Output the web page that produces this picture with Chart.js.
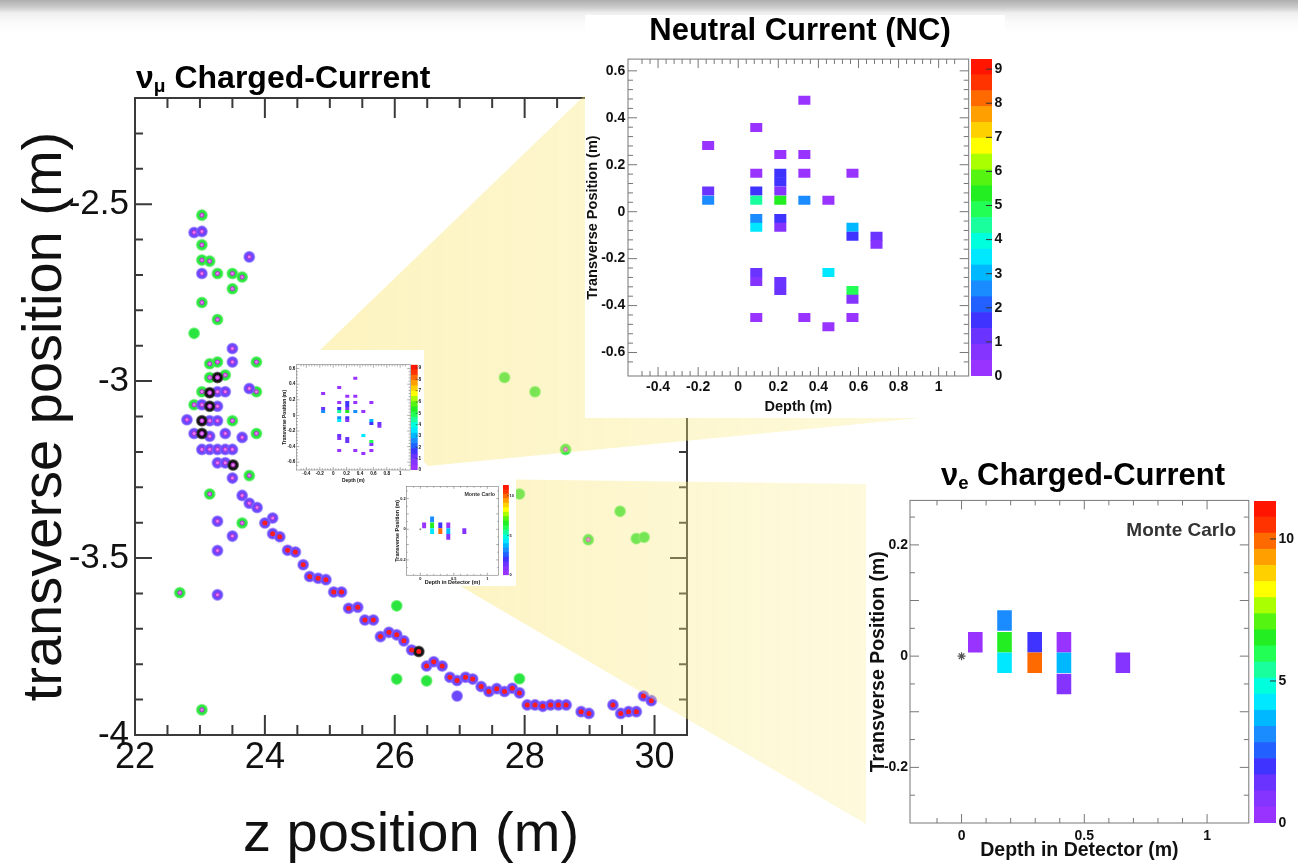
<!DOCTYPE html>
<html>
<head>
<meta charset="utf-8">
<script src="https://cdn.jsdelivr.net/npm/chart.js@4.4.1/dist/chart.umd.min.js"></script>
<style>
  body { margin: 0; background: #fff; }
  #stage { position: relative; width: 1298px; height: 865px; overflow: hidden; background: #fff; }
  .topband { position: absolute; left: 0; top: 0; width: 1298px; height: 34px; z-index: 0;
    background: linear-gradient(#aeaeae 0px, #cfcfcf 8px, #efefef 13px, #fafafa 22px, #fff 34px); }
  .box { position: absolute; background: #fff; z-index: 3; }
  .ttl { position: absolute; z-index: 5; font-family: 'Liberation Sans', Arial, sans-serif; font-weight: bold;
    color: #000; line-height: 1; white-space: nowrap; }
  .ttl sub { font-size: 0.6em; vertical-align: -0.2em; }
</style>
</head>
<body>
<div id="stage">
  <div class="topband"></div>
  <canvas id="main" width="700" height="865" style="position:absolute;left:0;top:0;z-index:1"></canvas>
  <canvas id="wedges" width="1298" height="865" style="position:absolute;left:0;top:0;z-index:2"></canvas>
  <div class="box" style="left:283px;top:350px;width:141px;height:132px"></div>
  <div class="box" style="left:398px;top:478px;width:118px;height:108px"></div>
  <div class="box" style="left:585px;top:15px;width:420px;height:403px"></div>
  <div class="box" style="left:866px;top:452px;width:432px;height:413px"></div>
  <div class="ttl" style="left:136px;top:61px;font-size:32px">ν<sub>μ</sub> Charged-Current</div>
  <div class="ttl" style="left:600px;top:14px;width:400px;text-align:center;font-size:31px">Neutral Current (NC)</div>
  <div class="ttl" style="left:883px;top:459px;width:400px;text-align:center;font-size:31px">ν<sub>e</sub> Charged-Current</div>
</div>
<script>
const FONT = "'Liberation Sans', Arial, sans-serif";

// main event display: z position (m), transverse position (m)
const greenHit = [[23.03,-2.531],[23.03,-2.615],[23.03,-2.658],[23.15,-2.661],[23.27,-2.696],[23.50,-2.696],
  [23.65,-2.706],[23.50,-2.739],[23.03,-2.778],[23.27,-2.826],[23.15,-2.951],[23.27,-2.946],[23.87,-2.946],
  [23.15,-2.990],[23.39,-2.983],[23.03,-3.030],[23.87,-3.030],[22.91,-3.067],[23.50,-3.112],[23.87,-3.148],
  [23.76,-3.267],[23.15,-3.319],[23.65,-3.401],[22.69,-3.598],[23.03,-3.929],[28.63,-3.193],[28.98,-3.448]];
const greenBare = [[22.91,-2.865],[26.03,-3.635],[26.03,-3.842],[26.49,-3.847],[27.92,-3.841],[27.69,-2.990],
  [28.16,-3.030],[27.92,-3.319],[29.47,-3.368],[29.72,-3.445],[29.84,-3.441]];
const blueHit = [[22.91,-2.580],[23.03,-2.577],[23.76,-2.649],[23.03,-2.696],[23.50,-2.908],[23.50,-2.946],
  [23.27,-3.030],[23.39,-3.030],[23.76,-3.021],[23.03,-3.067],[23.27,-3.071],[22.80,-3.109],[23.15,-3.112],
  [23.27,-3.112],[22.91,-3.148],[23.15,-3.156],[23.39,-3.148],[23.65,-3.159],[23.03,-3.193],[23.15,-3.193],
  [23.27,-3.193],[23.39,-3.193],[23.50,-3.193],[23.27,-3.231],[23.39,-3.231],[23.50,-3.274],[23.65,-3.323],
  [23.76,-3.345],[23.88,-3.357],[23.27,-3.396],[24.12,-3.387],[23.50,-3.438],[23.27,-3.479],[23.27,-3.604]];
const blueTrack = [[24.00,-3.401],[24.12,-3.431],[24.23,-3.440],[24.35,-3.478],[24.47,-3.483],[24.59,-3.519],
  [24.69,-3.552],[24.82,-3.557],[24.94,-3.561],[25.06,-3.596],[25.18,-3.596],[25.29,-3.642],[25.43,-3.639],
  [25.54,-3.675],[25.67,-3.675],[25.78,-3.722],[25.91,-3.710],[26.03,-3.717],[26.14,-3.734],[26.26,-3.760],
  [26.49,-3.805],[26.60,-3.793],[26.73,-3.805],[26.85,-3.837],[26.96,-3.846],[27.09,-3.837],[27.20,-3.842],
  [27.33,-3.863],[27.45,-3.877],[27.57,-3.869],[27.69,-3.877],[27.81,-3.868],[27.92,-3.881],[28.04,-3.915],
  [28.16,-3.915],[28.28,-3.919],[28.40,-3.915],[28.52,-3.915],[28.64,-3.915],[28.87,-3.934],[28.99,-3.939],
  [29.36,-3.915],[29.48,-3.939],[29.60,-3.934],[29.72,-3.934],[29.83,-3.890],[29.95,-3.903]];
const blueBare = [[26.96,-3.890]];
const blackHit = [[23.27,-2.990],[23.15,-3.033],[23.15,-3.071],[23.03,-3.112],[23.03,-3.148],[23.51,-3.237]];
const blackTrack = [[26.37,-3.764]];
const zTicks = [22, 24, 26, 28, 30];

// heat maps: [depth (m), transverse (m), charge]
const ncCells = [
  [-0.15,0.282,0.3],[-0.15,0.088,1.1],[-0.15,0.049,2.4],
  [0.09,0.359,0.3],[0.09,0.164,0.3],[0.09,0.088,1.4],[0.09,0.049,4.6],[0.09,-0.029,2.4],[0.09,-0.066,3.3],
  [0.09,-0.259,1.1],[0.09,-0.297,0.7],[0.09,-0.451,0.3],
  [0.21,0.244,0.3],[0.21,0.164,1.4],[0.21,0.127,1.4],[0.21,0.088,0.9],[0.21,0.049,5.3],[0.21,-0.029,1.5],
  [0.21,-0.066,0.7],[0.21,-0.297,1.0],[0.21,-0.336,1.1],
  [0.33,0.475,0.3],[0.33,0.244,0.3],[0.33,0.164,0.3],[0.33,0.049,2.4],[0.33,-0.451,0.3],
  [0.45,0.049,0.3],[0.45,-0.259,3.3],[0.45,-0.490,0.3],
  [0.57,0.164,0.3],[0.57,-0.066,2.9],[0.57,-0.105,1.5],[0.57,-0.336,5.0],[0.57,-0.373,0.7],[0.57,-0.451,0.3],
  [0.69,-0.105,1.1],[0.69,-0.139,0.7]];
const nueCells = [[0.056,0.025,0.3],[0.175,0.064,3.0],[0.175,0.025,6.5],[0.175,-0.012,4.3],[0.298,0.025,1.9],
  [0.298,-0.012,9.9],[0.417,0.025,0.4],[0.417,-0.012,3.6],[0.417,-0.050,0.9],[0.657,-0.012,0.9]];
const nueVertex = [{x: 0, y: 0}];

// colour palette, bottom to top of the colour bar
const PALETTE = ['#9933ff','#8533ff','#6a33ff','#3f33ff','#2260ff','#1a8cff','#00b8ff','#00e8ff','#00ffdd','#1aff9e',
  '#22ff55','#22ee22','#55f511','#aaff00','#ffff00','#ffd000','#ff9f00','#ff6a00','#ff3300','#ff1500'];

function bandColor(v, zmax) {
  const i = Math.min(PALETTE.length - 1, Math.floor(v / zmax * PALETTE.length));
  return PALETTE[i];
}
function isMult(v, step) {
  const r = v / step;
  return Math.abs(r - Math.round(r)) < 1e-6;
}
function fmt(v) { return String(Math.round(v * 100) / 100); }

// inward tick marks + frame, ROOT style
const frameTicks = {
  id: 'frameTicks',
  afterDraw(chart, args, o) {
    if (!o || !o.color) return;
    const {ctx, chartArea: a} = chart;
    ctx.save();
    ctx.strokeStyle = o.color;
    ctx.lineWidth = o.width;
    if (o.frame) ctx.strokeRect(a.left, a.top, a.right - a.left, a.bottom - a.top);
    ['x', 'y'].forEach(ax => {
      const spec = o[ax];
      if (!spec) return;
      const sc = chart.scales[ax];
      const eps = (sc.max - sc.min) * 1e-6;
      sc.ticks.forEach(t => {
        if (Math.abs(t.value - sc.min) < eps || Math.abs(t.value - sc.max) < eps) return;
        const p = sc.getPixelForValue(t.value);
        const len = isMult(t.value, spec.major) ? spec.long : spec.short;
        if (!len) return;
        ctx.beginPath();
        if (ax === 'x') {
          if (spec.bottom) { ctx.moveTo(p, a.bottom); ctx.lineTo(p, a.bottom - len); }
          if (spec.top) { ctx.moveTo(p, a.top); ctx.lineTo(p, a.top + len); }
        } else {
          if (spec.left) { ctx.moveTo(a.left, p); ctx.lineTo(a.left + len, p); }
          if (spec.right) { ctx.moveTo(a.right, p); ctx.lineTo(a.right - len, p); }
        }
        ctx.stroke();
      });
    });
    ctx.restore();
  }
};

const cornerText = {
  id: 'cornerText',
  afterDraw(chart, args, o) {
    if (!o || !o.text) return;
    const {ctx, chartArea: a} = chart;
    ctx.save();
    ctx.font = 'bold ' + o.size + 'px ' + FONT;
    ctx.fillStyle = '#333';
    ctx.textAlign = 'right';
    ctx.textBaseline = 'alphabetic';
    ctx.fillText(o.text, a.right - o.dx, a.top + o.dy);
    ctx.restore();
  }
};
Chart.register(frameTicks, cornerText);

const stage = document.getElementById('stage');
function addCanvas(x, y, w, h) {
  const c = document.createElement('canvas');
  c.width = Math.round(w);
  c.height = Math.round(h);
  c.style.cssText = 'position:absolute;left:' + Math.round(x) + 'px;top:' + Math.round(y) + 'px;z-index:4';
  stage.appendChild(c);
  return c;
}

// ---------- main scatter ----------
const pts = a => a.map(p => ({x: p[0], y: p[1]}));
new Chart(document.getElementById('main'), {
  type: 'scatter',
  data: {
    datasets: [
      { data: pts(greenHit.concat(blueHit, blackHit)), backgroundColor: '#e27cf0', borderColor: '#b62ad0', borderWidth: 1, pointRadius: 2, order: 0 },
      { data: pts(blueTrack.concat(blackTrack)), backgroundColor: '#ff1c1c', borderWidth: 0, pointRadius: 2.5, order: 0 },
      { data: pts(blackHit.concat(blackTrack)), backgroundColor: '#141414', borderColor: 'rgba(60,60,60,0.6)', borderWidth: 1.5, pointRadius: 5.3, order: 1 },
      { data: pts(blueHit.concat(blueTrack, blueBare)), backgroundColor: '#6a48ff', borderColor: 'rgba(140,110,255,0.6)', borderWidth: 1.5, pointRadius: 5.3, order: 2 },
      { data: pts(greenHit.concat(greenBare)), backgroundColor: '#2ae43f', borderColor: 'rgba(90,240,100,0.6)', borderWidth: 1.5, pointRadius: 5.3, order: 3 }
    ]
  },
  options: {
    responsive: false,
    animation: false,
    events: [],
    layout: { padding: { top: 98, right: 13, left: 0, bottom: 0 } },
    plugins: {
      legend: { display: false },
      tooltip: { enabled: false },
      frameTicks: {
        color: '#3a3a3a', width: 2, frame: true,
        x: { major: 2, long: 20, short: 10, bottom: true, top: true },
        y: { major: 0.5, long: 17, short: 8, left: true, right: true }
      }
    },
    scales: {
      x: {
        type: 'linear', min: 22, max: 30.5,
        grid: { display: false, drawTicks: false }, border: { display: false },
        ticks: { stepSize: 0.5, autoSkip: false, maxRotation: 0, padding: 1, color: '#111',
          font: { family: FONT, size: 36 },
          callback: v => zTicks.some(t => Math.abs(t - v) < 1e-6) ? fmt(v) : '' },
        title: { display: true, text: 'z position (m)', color: '#111',
          font: { family: FONT, size: 56, lineHeight: 1 }, padding: { top: 0, bottom: 1 } },
        afterFit: sc => { sc.height = 130; }
      },
      y: {
        type: 'linear', min: -4, max: -2.2,
        grid: { display: false, drawTicks: false }, border: { display: false },
        ticks: { stepSize: 0.1, autoSkip: false, padding: 6, color: '#111',
          font: { family: FONT, size: 35 },
          callback: v => isMult(v, 0.5) ? fmt(v) : '' },
        title: { display: true, text: 'transverse position (m)', color: '#111',
          font: { family: FONT, size: 56, lineHeight: 1 }, padding: { top: 18, bottom: 0 } },
        afterFit: sc => { sc.width = 135; }
      }
    }
  }
});

// ---------- yellow zoom wedges ----------
const wc = document.getElementById('wedges').getContext('2d');
function wedge(poly, x0, x1) {
  const g = wc.createLinearGradient(x0, 0, x1, 0);
  g.addColorStop(0, 'rgba(250,228,105,0.42)');
  g.addColorStop(1, 'rgba(250,236,140,0.30)');
  wc.fillStyle = g;
  wc.beginPath();
  poly.forEach((p, i) => i ? wc.lineTo(p[0], p[1]) : wc.moveTo(p[0], p[1]));
  wc.closePath();
  wc.fill();
}
wedge([[318, 352], [585, 95], [1003, 95], [1003, 410], [428, 466]], 318, 1003);
wedge([[398, 478], [866, 484], [866, 824], [450, 580], [398, 580]], 398, 866);

// ---------- heat map panels ----------
const NC = {
  cells: ncCells, binH: 0.0385, zmax: 9.3, cbStep: 1,
  xMin: -0.55, xMax: 1.15, yMin: -0.70, yMax: 0.65,
  xStep: 0.04, xMajor: 0.2, xLabel: 0.2, yStep: 0.04, yMajor: 0.2, yLabel: 0.2,
  xTitle: 'Depth (m)', yTitle: 'Transverse Position (m)',
  L: { w: 386, h: 370, axisW: 43, padTop: 3, axisH: 42, cbW: 34, barW: 21,
       tick: 14, title: 14.5, padX: 2.3, padY: 2.7, yTitlePad: 0.5, xTitlePad: 4 }
};
const NUE = {
  cells: nueCells, binH: 0.037, zmax: 11.34, cbStep: 5, vertex: nueVertex, corner: 'Monte Carlo',
  xMin: -0.21, xMax: 1.17, yMin: -0.30, yMax: 0.28,
  xStep: 0.1, xMajor: 0.5, xLabel: 0.5, yStep: 0.05, yMajor: 0.1, yLabel: 0.2,
  xTitle: 'Depth in Detector (m)', yTitle: 'Transverse Position (m)',
  L: { w: 388, h: 375, axisW: 44, padTop: 7, axisH: 42, cbW: 44, barW: 22,
       tick: 14, title: 19.5, padX: 5, padY: 2, yTitlePad: 2.5, xTitlePad: 5 }
};

function heatPanel(P, ox, oy, s) {
  const L = P.L;
  const bf = n => ({ family: FONT, size: n * s, weight: 'bold' });
  const c = addCanvas(ox, oy, L.w * s, L.h * s);
  const datasets = [{
    type: 'bar', xAxisID: 'xb',
    data: P.cells.map(d => ({ x: d[0], y: [d[1] - P.binH / 2, d[1] + P.binH / 2], v: d[2] })),
    backgroundColor: ctx => ctx.raw ? bandColor(ctx.raw.v, P.zmax) : PALETTE[0],
    borderWidth: 0, categoryPercentage: 1, barPercentage: 0.5
  }];
  if (P.vertex) datasets.push({ type: 'scatter', data: P.vertex, pointStyle: 'star',
    pointRadius: 4 * s, borderColor: '#555', borderWidth: 1.2 * s, backgroundColor: '#555' });
  new Chart(c, {
    type: 'bar',
    data: { datasets },
    options: {
      responsive: false, animation: false, events: [],
      layout: { padding: { top: L.padTop * s, left: 0, right: 0, bottom: 0 } },
      plugins: {
        legend: { display: false }, tooltip: { enabled: false },
        frameTicks: { color: '#777', width: Math.max(0.6, s), frame: true,
          x: { major: P.xMajor, long: 9 * s, short: 5 * s, bottom: true, top: true },
          y: { major: P.yMajor, long: 9 * s, short: 5 * s, left: true, right: true } },
        cornerText: P.corner ? { text: P.corner, size: 19 * s, dx: 12.7 * s, dy: 35.3 * s } : {}
      },
      scales: {
        // hidden twin of x used by the cells, so the bar width follows the plane spacing only
        xb: { type: 'linear', display: false, min: P.xMin, max: P.xMax, offset: false,
          ticks: { stepSize: 100 } },
        x: {
          type: 'linear', min: P.xMin, max: P.xMax, offset: false,
          grid: { display: false, drawTicks: false }, border: { display: false },
          ticks: { stepSize: P.xStep, autoSkip: false, maxRotation: 0, padding: L.padX * s, color: '#111',
            font: bf(L.tick), callback: v => isMult(v, P.xLabel) ? fmt(v) : '' },
          title: { display: true, text: P.xTitle, color: '#111',
            font: { family: FONT, size: L.title * s, weight: 'bold', lineHeight: 1 },
            padding: { top: 0, bottom: L.xTitlePad * s } },
          afterFit: sc => { sc.height = L.axisH * s; }
        },
        y: {
          type: 'linear', min: P.yMin, max: P.yMax, beginAtZero: false,
          grid: { display: false, drawTicks: false }, border: { display: false },
          ticks: { stepSize: P.yStep, autoSkip: false, padding: L.padY * s, color: '#111',
            font: bf(L.tick), callback: v => isMult(v, P.yLabel) ? fmt(v) : '' },
          title: { display: true, text: P.yTitle, color: '#111',
            font: { family: FONT, size: L.title * s, weight: 'bold', lineHeight: 1 },
            padding: { top: L.yTitlePad * s, bottom: 0 } },
          afterFit: sc => { sc.width = L.axisW * s; }
        }
      }
    }
  });

  // colour bar
  const cb = addCanvas(ox + Math.round(L.w * s), oy, L.cbW * s, L.h * s);
  new Chart(cb, {
    type: 'bar',
    data: { labels: [''], datasets: PALETTE.map(col => ({ data: [P.zmax / PALETTE.length],
      backgroundColor: col, borderWidth: 0, categoryPercentage: 1, barPercentage: 1 })) },
    options: {
      responsive: false, animation: false, events: [],
      layout: { padding: { top: L.padTop * s, bottom: L.axisH * s, left: 0, right: 0 } },
      plugins: {
        legend: { display: false }, tooltip: { enabled: false },
        frameTicks: { color: '#333', width: Math.max(0.6, s),
          y: { major: P.cbStep, long: 6 * s, short: 0, right: true } }
      },
      scales: {
        x: { stacked: true, display: false },
        y: {
          stacked: true, position: 'right', min: 0, max: P.zmax, bounds: 'data',
          grid: { display: false, drawTicks: false }, border: { display: false },
          ticks: { stepSize: P.cbStep, includeBounds: false, autoSkip: false, padding: 2.5 * s, color: '#111',
            font: bf(L.tick), callback: v => isMult(v, P.cbStep) ? fmt(v) : '' },
          afterFit: sc => { sc.width = (L.cbW - L.barW) * s; }
        }
      }
    }
  });
}

heatPanel(NC, 585, 48, 1);
heatPanel(NUE, 866, 490, 1);
heatPanel(NC, 282.4, 361, 1 / 3);
heatPanel(NUE, 394.4, 482.3, 0.28);
</script>
</body>
</html>
